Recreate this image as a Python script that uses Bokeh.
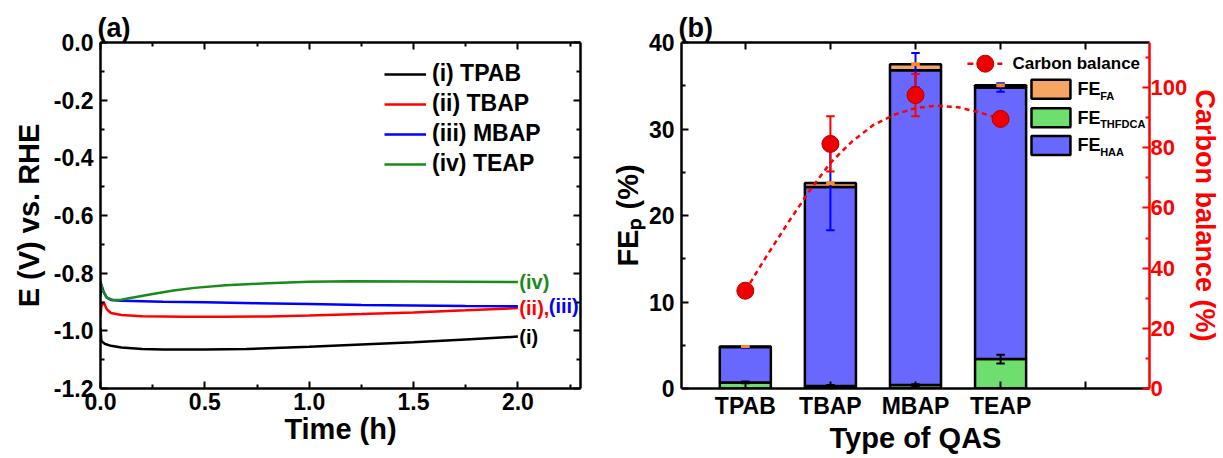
import numpy as np
from bokeh.plotting import figure
from bokeh.layouts import row
from bokeh.models import (Range1d, LinearAxis, FixedTicker, Legend, LegendItem,
                          PrintfTickFormatter, CustomJSTickFormatter)
from bokeh.embed import file_html
from bokeh.resources import INLINE
from bokeh.core.properties import value

FONT = "Liberation Sans"

# ---------------- panel (a): potential vs time ----------------
t_tpab = [0.0, 0.004, 0.02, 0.05, 0.1, 0.2, 0.3, 0.5, 0.7, 1.0, 1.25, 1.5, 1.75, 2.0]
e_tpab = [-0.99, -1.035, -1.045, -1.052, -1.058, -1.063, -1.065, -1.065, -1.063, -1.055, -1.047, -1.040, -1.030, -1.020]
t_tbap = [0.0, 0.004, 0.015, 0.03, 0.05, 0.1, 0.2, 0.4, 0.6, 0.8, 1.0, 1.25, 1.5, 1.75, 2.0]
e_tbap = [-0.95, -0.915, -0.900, -0.925, -0.938, -0.945, -0.949, -0.951, -0.951, -0.950, -0.947, -0.942, -0.936, -0.929, -0.921]
t_mbap = [0.0, 0.004, 0.015, 0.03, 0.05, 0.1, 0.3, 0.5, 0.75, 1.0, 1.25, 1.5, 1.75, 2.0]
e_mbap = [-0.88, -0.84, -0.865, -0.885, -0.893, -0.896, -0.899, -0.901, -0.904, -0.907, -0.910, -0.912, -0.914, -0.915]
t_teap = [0.0, 0.01, 0.03, 0.06, 0.1, 0.15, 0.25, 0.35, 0.45, 0.6, 0.8, 1.0, 1.2, 1.5, 1.75, 2.0]
e_teap = [-0.826, -0.86, -0.885, -0.893, -0.892, -0.885, -0.872, -0.860, -0.851, -0.842, -0.835, -0.830, -0.828, -0.829, -0.830, -0.831]

series_names = ["(i) TPAB", "(ii) TBAP", "(iii) MBAP", "(iv) TEAP"]
series_colors = ["#000000", "#ff0000", "#0000ff", "#1a8a1a"]

xa_ticks = [0.0, 0.5, 1.0, 1.5, 2.0]
xa_minor = [0.25, 0.75, 1.25, 1.75, 2.25]
ya_ticks = [-1.2, -1.0, -0.8, -0.6, -0.4, -0.2, 0.0]
ya_minor = [-1.1, -0.9, -0.7, -0.5, -0.3, -0.1]

# ---------------- panel (b): Faradaic efficiency ----------------
qas = ["TPAB", "TBAP", "MBAP", "TEAP"]
fe_thfdca = [0.7, 0.3, 0.4, 3.4]
fe_haa = [4.1, 23.0, 36.4, 31.4]
fe_fa = [0.05, 0.45, 0.7, 0.25]
err_thfdca = [0.1, 0.1, 0.1, 0.5]
err_haa = [0.1, 5.0, 2.0, 0.5]
err_fa = [0.05, 0.1, 0.1, 0.1]
carbon = [32.5, 81.3, 97.5, 89.6]
err_carbon = [1.0, 9.2, 7.0, 1.5]
fit_x = [1.0, 1.25, 1.5, 1.75, 2.0, 2.25, 2.5, 2.75, 3.0, 3.25, 3.5, 3.75, 4.0]
fit_y = [32.5, 44.0, 55.0, 65.5, 75.0, 82.0, 87.5, 91.0, 93.2, 94.0, 93.5, 91.8, 89.6]

yb_ticks = [0, 10, 20, 30, 40]
yb_minor = [5, 15, 25, 35]
cb_ticks = [0, 20, 40, 60, 80, 100]
cb_minor = [10, 30, 50, 70, 90, 110]

GREEN = "#6ede6e"
BLUE = "#6868ff"
ORANGE = "#f5a662"


def style_axis(ax, color="#000000", labels=True, size="23px"):
    ax.axis_line_width = 2.5
    ax.axis_line_color = color
    ax.major_tick_line_color = color
    ax.minor_tick_line_color = color
    ax.major_tick_line_width = 2
    ax.minor_tick_line_width = 2
    ax.major_tick_in = 7
    ax.major_tick_out = 0
    ax.minor_tick_in = 4
    ax.minor_tick_out = 0
    ax.major_label_text_font = FONT
    ax.major_label_text_font_style = "bold"
    ax.major_label_text_color = color
    ax.major_label_text_alpha = 1.0
    ax.axis_label_text_font = FONT
    ax.axis_label_text_font_style = "bold"
    ax.axis_label_text_font_size = "29px"
    ax.axis_label_text_color = color
    if labels:
        ax.major_label_text_font_size = size
        ax.major_label_standoff = 7
        ax.axis_label_standoff = 6
    else:
        ax.formatter = CustomJSTickFormatter(code="return ''")
        ax.major_label_text_font_size = "1px"
        ax.major_label_standoff = 0


def style_title(p, txt):
    p.title.text = txt
    p.title.text_font = FONT
    p.title.text_font_style = "bold"
    p.title.text_font_size = "27px"
    p.title.text_color = "#000000"
    p.title.align = "left"
    p.title.standoff = 0
    p.title.offset = -3


# ---------- figure (a) ----------
pa = figure(width=605, height=458, x_range=Range1d(0, 2.3), y_range=Range1d(-1.2, 0.0),
            output_backend="svg", toolbar_location=None,
            min_border_left=100, min_border_right=25, min_border_top=42, min_border_bottom=68)
pa.grid.visible = False
pa.outline_line_color = None
style_title(pa, "(a)")

pa.xaxis.ticker = FixedTicker(ticks=xa_ticks, minor_ticks=xa_minor)
pa.xaxis.formatter = PrintfTickFormatter(format="%.1f")
pa.xaxis.axis_label = "Time (h)"
pa.yaxis.ticker = FixedTicker(ticks=ya_ticks, minor_ticks=ya_minor)
pa.yaxis.formatter = PrintfTickFormatter(format="%.1f")
pa.yaxis.axis_label = "E (V) vs. RHE"
style_axis(pa.xaxis[0])
style_axis(pa.yaxis[0])
pa.xaxis.major_label_standoff = 4
pa.xaxis.axis_label_standoff = 0

ax_r = LinearAxis(ticker=FixedTicker(ticks=ya_ticks, minor_ticks=ya_minor))
style_axis(ax_r, labels=False)
pa.add_layout(ax_r, "right")
ax_t = LinearAxis(ticker=FixedTicker(ticks=xa_ticks, minor_ticks=xa_minor))
style_axis(ax_t, labels=False)
pa.add_layout(ax_t, "above")

ts = [t_tpab, t_tbap, t_mbap, t_teap]
es = [e_tpab, e_tbap, e_mbap, e_teap]
items = []
for name, t, e, c in zip(series_names, ts, es, series_colors):
    r = pa.line(t, e, line_color=c, line_width=2.5)
    items.append(LegendItem(label=name, renderers=[r]))
leg = Legend(items=items, location=(284, 211), label_text_font=FONT, label_text_font_style="bold",
             label_text_font_size="23px", label_text_color="#000000",
             glyph_width=42, glyph_height=24, label_height=24,
             spacing=3, padding=0, margin=0, border_line_color=None, background_fill_alpha=0,
             label_standoff=6)
pa.add_layout(leg)

ann_kw = dict(text_font=value(FONT), text_font_style="bold", text_font_size="20px",
              text_baseline="middle", text_align="left")
pa.text([2.007], [e_teap[-1]], text=["(iv)"], text_color=series_colors[3], **ann_kw)
pa.text([2.007], [e_tbap[-1]], text=["(ii),"], text_color=series_colors[1], **ann_kw)
pa.text([2.148], [e_mbap[-1]], text=["(iii)"], text_color=series_colors[2], **ann_kw)
pa.text([2.007], [e_tpab[-1]], text=["(i)"], text_color=series_colors[0], **ann_kw)

# ---------- figure (b) ----------
pb = figure(width=618, height=458, x_range=Range1d(0.25, 5.75), y_range=Range1d(0, 40),
            output_backend="svg", toolbar_location=None,
            min_border_left=76, min_border_right=74, min_border_top=41, min_border_bottom=70)
pb.grid.visible = False
pb.outline_line_color = None
pb.extra_y_ranges = {"cb": Range1d(0, 115)}
style_title(pb, "(b)")

xpos = list(range(1, len(qas) + 1))
overrides = {i + 1: q for i, q in enumerate(qas)}
overrides[len(qas) + 1] = ""
bx_ticks = xpos + [len(qas) + 1]
pb.xaxis.ticker = FixedTicker(ticks=bx_ticks)
pb.xaxis.major_label_overrides = overrides
pb.xaxis.axis_label = "Type of QAS"
pb.yaxis.ticker = FixedTicker(ticks=yb_ticks, minor_ticks=yb_minor)
pb.yaxis.formatter = PrintfTickFormatter(format="%d")
pb.yaxis.axis_label = "FE\u209a (%)"
style_axis(pb.xaxis[0])
style_axis(pb.yaxis[0])
pb.xaxis.major_label_standoff = 4
pb.xaxis.axis_label_standoff = 0
pb.yaxis.axis_label_standoff = 2

bt = LinearAxis(ticker=FixedTicker(ticks=bx_ticks))
style_axis(bt, labels=False)
pb.add_layout(bt, "above")
rax = LinearAxis(y_range_name="cb", ticker=FixedTicker(ticks=cb_ticks, minor_ticks=cb_minor),
                 formatter=PrintfTickFormatter(format="%d"), axis_label="Carbon balance (%)")
style_axis(rax, "#ff0000", size="22px")
rax.major_label_standoff = 1
rax.axis_label_standoff = 0
rax.axis_label_text_font_size = "27px"
pb.add_layout(rax, "right")

top_thf = np.array(fe_thfdca)
top_haa = top_thf + np.array(fe_haa)
top_fa = top_haa + np.array(fe_fa)
bar_kw = dict(width=0.6, line_color="black", line_width=2.5)
pb.vbar(x=xpos, bottom=0, top=top_thf, fill_color=GREEN, **bar_kw)
pb.vbar(x=xpos, bottom=top_thf, top=top_haa, fill_color=BLUE, **bar_kw)
pb.vbar(x=xpos, bottom=top_haa, top=top_fa, fill_color=ORANGE, **bar_kw)


def errbar(p, x, y, e, color, cap=0.05, rng="default"):
    x = np.array(x, float)
    y = np.array(y, float)
    e = np.array(e, float)
    kw = dict(line_color=color, line_width=2, y_range_name=rng)
    p.segment(x, y - e, x, y + e, **kw)
    p.segment(x - cap, y + e, x + cap, y + e, **kw)
    p.segment(x - cap, y - e, x + cap, y - e, **kw)


errbar(pb, xpos, top_thf, err_thfdca, "black")
errbar(pb, xpos, top_haa, err_haa, "#0000ff")
errbar(pb, xpos, top_fa, err_fa, "#ff8c1a")

pb.line(fit_x, fit_y, line_color="#ff0000", line_dash="5 4", line_width=2.5, y_range_name="cb")
errbar(pb, xpos, carbon, err_carbon, "#ff0000", rng="cb")
pb.scatter(xpos, carbon, size=17, fill_color="#ee0000", line_color="#b00000", line_width=1,
           y_range_name="cb")

# manual legend (b)
pb.line([3.61, 4.02], [37.55, 37.55], line_color="#ff0000", line_dash="6 4", line_width=2.5)
pb.scatter([3.82], [37.55], size=17, fill_color="#ee0000", line_color="#b00000", line_width=1)
pb.text([4.14], [37.55], text=["Carbon balance"], text_font=value(FONT), text_font_style="bold",
        text_font_size="17px", text_baseline="middle", text_color="#000000")
rows_y = [34.6, 31.3, 28.1]
pb.quad(left=[4.363] * 3, right=[4.821] * 3, bottom=[y - 1.1 for y in rows_y],
        top=[y + 1.1 for y in rows_y], fill_color=[ORANGE, GREEN, BLUE],
        line_color="black", line_width=2.5)
pb.text([4.903] * 3, rows_y, text=["FE", "FE", "FE"], text_font=value(FONT),
        text_font_style="bold", text_font_size="18px", text_baseline="middle",
        text_color="#000000")
pb.text([5.17] * 3, [y - 0.75 for y in rows_y], text=["FA", "THFDCA", "HAA"],
        text_font=value(FONT), text_font_style="bold", text_font_size="11px",
        text_baseline="middle", text_color="#000000")

for p in (pa, pb):
    p.background_fill_color = "white"
    p.border_fill_color = "white"

layout = row(pa, pb)
open("out.html", "w").write(file_html(layout, INLINE))
